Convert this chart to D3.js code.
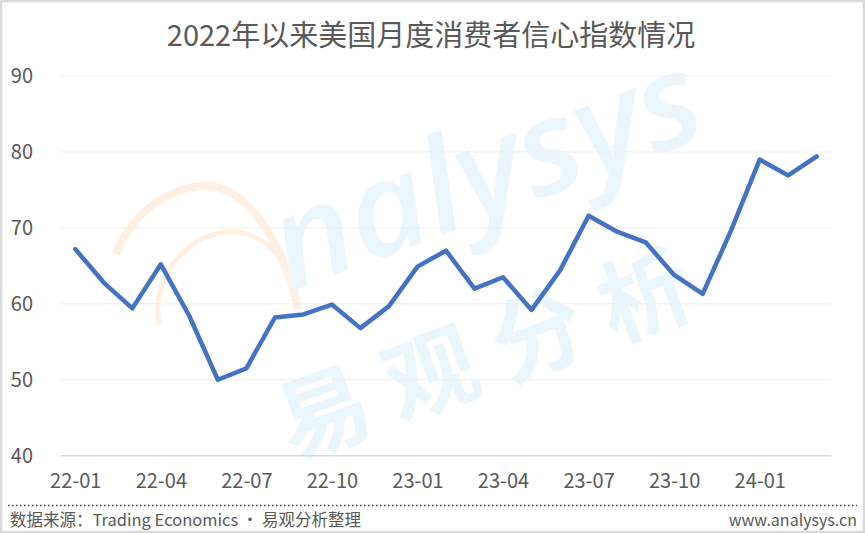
<!DOCTYPE html>
<html><head><meta charset="utf-8">
<script src="https://cdn.jsdelivr.net/npm/d3@7/dist/d3.min.js"></script>
<style>html,body{margin:0;padding:0;background:#fff}svg{display:block}</style>
</head><body>
<script>
const title = "2022年以来美国月度消费者信心指数情况";
const months = ["22-01","22-02","22-03","22-04","22-05","22-06","22-07","22-08","22-09","22-10","22-11","22-12",
                "23-01","23-02","23-03","23-04","23-05","23-06","23-07","23-08","23-09","23-10","23-11","23-12",
                "24-01","24-02","24-03"];
const sentiment = [67.2,62.8,59.4,65.2,58.4,50.0,51.5,58.2,58.6,59.9,56.8,59.7,
                   64.9,67.0,62.0,63.5,59.2,64.4,71.6,69.5,68.1,63.8,61.3,69.7,
                   79.0,76.9,79.4];
const xTickLabels = ["22-01","22-04","22-07","22-10","23-01","23-04","23-07","23-10","24-01"];
const yTicks = [40,50,60,70,80,90];
const sourceText = "数据来源：Trading Economics • 易观分析整理";
const siteText = "www.analysys.cn";

const W = 865, H = 533;
const font = "'Noto Sans CJK SC','Noto Sans',sans-serif";
const svg = d3.select("body").append("svg").attr("width", W).attr("height", H);

svg.append("rect").attr("x",1).attr("y",1).attr("width",W-2).attr("height",H-2)
  .attr("fill","#fff").attr("stroke","#d9d9d9").attr("stroke-width",2.5);

// watermark
const wm = svg.append("g").attr("pointer-events","none");
wm.append("path").attr("d","M116,254 C135,200 200,170 235,195 C270,220 290,270 298,309")
  .attr("fill","none").attr("stroke","#fef0e3").attr("stroke-width",8);
wm.append("path").attr("d","M159,325 C150,270 195,228 238,232 C262,236 276,250 282,262")
  .attr("fill","none").attr("stroke","#fef0e3").attr("stroke-width",5);
wm.append("text").attr("transform","translate(290,292) rotate(-20.5)")
  .attr("font-family","'Open Sans','DejaVu Sans',sans-serif").attr("font-weight","600").attr("font-style","italic")
  .attr("font-size",130).attr("textLength",450).attr("lengthAdjust","spacingAndGlyphs")
  .attr("fill","#ebf5fc").text("nalysys");
wm.append("text").attr("transform","translate(292,460) rotate(-20)")
  .attr("font-family",font).attr("font-weight","bold")
  .attr("font-size",92).attr("letter-spacing",22)
  .attr("fill","#ebf5fc").text("易观分析");

// scales
const x = d3.scalePoint().domain(months).range([61,831]).padding(0.5);
const y = d3.scaleLinear().domain([40,90]).range([455.7,76]);

// gridlines
svg.append("g").selectAll("line").data(yTicks).join("line")
  .attr("x1",61).attr("x2",831).attr("y1",d=>y(d)).attr("y2",d=>y(d))
  .attr("stroke",d=>d===40?"#d9d9d9":"#efefef").attr("stroke-width",d=>d===40?1.5:1);

// y axis
const yAxis = d3.axisLeft(y).tickValues(yTicks).tickSize(0).tickPadding(0);
const gy = svg.append("g").attr("transform","translate(33,0)").call(yAxis);
gy.select(".domain").remove();
gy.selectAll("text").attr("font-family",font).attr("font-size",20).attr("fill","#595959");

// x axis
const xAxis = d3.axisBottom(x).tickValues(xTickLabels).tickSize(0).tickPadding(0);
const gx = svg.append("g").attr("transform","translate(0,474)").call(xAxis);
gx.select(".domain").remove();
gx.selectAll("text").attr("font-family",font).attr("font-size",20).attr("fill","#595959");

// line
const line = d3.line().x((d,i)=>x(months[i])).y(d=>y(d));
svg.append("path").datum(sentiment).attr("d",line)
  .attr("fill","none").attr("stroke","#4472C4").attr("stroke-width",4.5)
  .attr("stroke-linejoin","round").attr("stroke-linecap","round");

// title
svg.append("text").attr("x",431).attr("y",46).attr("text-anchor","middle")
  .attr("font-family",font).attr("font-size",29).attr("fill","#595959").text(title);

// footer
svg.append("line").attr("x1",8).attr("x2",857).attr("y1",505.5).attr("y2",505.5)
  .attr("stroke","#404040").attr("stroke-width",1.5).attr("stroke-dasharray","1.5,2.5");
svg.append("text").attr("x",10).attr("y",526)
  .attr("font-family",font).attr("font-size",16.5).attr("fill","#595959").text(sourceText);
svg.append("text").attr("x",857).attr("y",526).attr("text-anchor","end")
  .attr("font-family",font).attr("font-size",16).attr("fill","#595959").text(siteText);
</script>
</body></html>
